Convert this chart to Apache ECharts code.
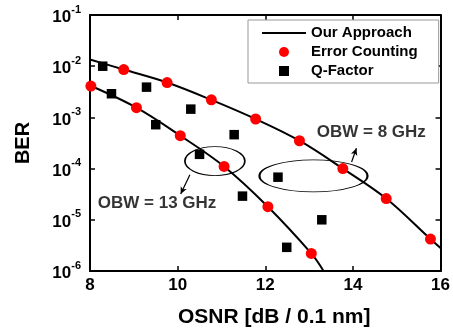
<!DOCTYPE html>
<html><head><meta charset="utf-8">
<script src="https://cdn.jsdelivr.net/npm/echarts@6/dist/echarts.min.js"></script>
<style>html,body{margin:0;padding:0;background:#fff}#c{width:453px;height:333px}</style>
</head><body><div id="c"></div>
<script>
// Error counting, OBW = 13 GHz
const ecX13 = [8.02, 9.06, 10.06, 11.06, 12.06, 13.05];
const ecY13 = [4.1e-3, 1.55e-3, 4.4e-4, 1.1e-4, 1.8e-5, 2.2e-6];
// Error counting, OBW = 8 GHz
const ecX8 = [8.77, 9.76, 10.77, 11.78, 12.78, 13.77, 14.76, 15.77];
const ecY8 = [8.6e-3, 4.8e-3, 2.2e-3, 9.3e-4, 3.5e-4, 1.0e-4, 2.6e-5, 4.2e-6];
// Q-factor
const qX = [8.29, 8.49, 9.29, 9.5, 10.3, 10.5, 11.29, 11.48, 12.29, 12.49, 13.29];
const qY = [1.0e-2, 2.9e-3, 3.9e-3, 7.2e-4, 1.45e-3, 1.9e-4, 4.6e-4, 2.9e-5, 6.8e-5, 2.9e-6, 1.0e-5];
// Our approach curves
const fit8X = [8, 8.77, 9.76, 10.77, 11.78, 12.78, 13.77, 14.76, 15.77, 16];
const fit8Y = [1.35e-2, 8.6e-3, 4.8e-3, 2.2e-3, 9.3e-4, 3.5e-4, 1.0e-4, 2.6e-5, 4.2e-6, 2.8e-6];
const fit13X = [8, 9.06, 10.06, 11.06, 12.06, 13.05, 13.33];
const fit13Y = [4.2e-3, 1.55e-3, 4.4e-4, 1.1e-4, 1.8e-5, 2.2e-6, 1.0e-6];
// Axis ticks
const xTicks = [8, 10, 12, 14, 16];
const yExps = [-6, -5, -4, -3, -2, -1];
// Annotations
const annoText = ['OBW = 13 GHz', 'OBW = 8 GHz'];
const annoX = [9.53, 14.42];
const annoY = [2.1e-5, 5.1e-4];
const ellX = [10.85, 13.1];
const ellY = [1.4e-4, 7.2e-5];
const arrow13 = [[10.28, 7.6e-5], [10.07, 3.2e-5]];
const arrow8 = [[13.97, 1.35e-4], [14.08, 2.5e-4]];

const zip = (a, b) => a.map((v, i) => [v, b[i]]);
const FF = "'Liberation Sans', Arial, sans-serif";
const ELL = 'path://M0,1 C0,0.4477 0.4477,0 1,0 C1.5523,0 2,0.4477 2,1 C2,1.5523 1.5523,2 1,2 C0.4477,2 0,1.5523 0,1 Z';
const LINE_ICON = 'path://M0,0 L44,0 L44,2 L0,2 Z';
const SQ_ICON = 'path://M0,0 L8,0 L8,8 L0,8 Z';

const chart = echarts.init(document.getElementById('c'), null, {renderer: 'canvas'});
const axisLine = {show: true, lineStyle: {color: '#000', width: 2}};
const tick = {show: true, inside: true, length: 5, lineStyle: {color: '#000', width: 1.5}};
chart.setOption({
  animation: false,
  grid: {left: 90, right: 12, top: 15, bottom: 60},
  legend: {
    orient: 'vertical', left: 248, top: 20,
    data: [
      {name: 'Our Approach', icon: LINE_ICON, itemStyle: {color: '#000'}},
      {name: 'Error Counting', icon: 'circle'},
      {name: 'Q-Factor', icon: SQ_ICON}
    ],
    padding: [5, 21, 4, 14], itemGap: 3, itemWidth: 44, itemHeight: 10,
    borderColor: '#999', borderWidth: 1, backgroundColor: '#fff',
    selectedMode: false,
    textStyle: {fontFamily: FF, fontWeight: 'bold', fontSize: 15, color: '#000', lineHeight: 16}
  },
  xAxis: [{
    type: 'value', min: 8, max: 16, interval: 2,
    name: 'OSNR [dB / 0.1 nm]', nameLocation: 'middle', nameGap: 36,
    nameTextStyle: {fontFamily: FF, fontWeight: 'bold', fontSize: 21, color: '#000', padding: [0, 0, 0, 18]},
    axisLine, axisTick: tick, splitLine: {show: false},
    axisLabel: {fontFamily: FF, fontWeight: 'bold', fontSize: 17, color: '#000', margin: 6}
  }, {
    type: 'value', position: 'top', min: 8, max: 16, interval: 2,
    axisLine, axisTick: tick, splitLine: {show: false}, axisLabel: {show: false}
  }],
  yAxis: [{
    type: 'log', logBase: 10, min: 1e-6, max: 1e-1, interval: 1,
    name: 'BER', nameLocation: 'middle', nameGap: 57, nameRotate: 90,
    nameTextStyle: {fontFamily: FF, fontWeight: 'bold', fontSize: 20, color: '#000'},
    axisLine, axisTick: tick, splitLine: {show: false}, minorTick: {show: false},
    axisLabel: {
      margin: 9,
      formatter: v => '{b|10}{s|' + Math.round(Math.log10(v)) + '}',
      rich: {
        b: {fontFamily: FF, fontWeight: 'bold', fontSize: 17, color: '#000', verticalAlign: 'bottom', lineHeight: 22},
        s: {fontFamily: FF, fontWeight: 'bold', fontSize: 11, color: '#000', verticalAlign: 'top', lineHeight: 12}
      }
    }
  }, {
    type: 'log', logBase: 10, min: 1e-6, max: 1e-1, interval: 1, position: 'right',
    axisLine, axisTick: tick, splitLine: {show: false}, axisLabel: {show: false}
  }],
  series: [
    {name: 'Our Approach', type: 'line', data: zip(fit8X, fit8Y), smooth: 0.35, symbol: 'none',
     lineStyle: {color: '#000', width: 2}, itemStyle: {color: '#000'}, z: 2},
    {name: 'Our Approach', type: 'line', data: zip(fit13X, fit13Y), smooth: 0.35, symbol: 'none',
     lineStyle: {color: '#000', width: 2}, itemStyle: {color: '#000'}, z: 2},
    {name: 'Error Counting', type: 'scatter', data: zip(ecX13, ecY13).concat(zip(ecX8, ecY8)),
     symbol: 'circle', symbolSize: 11, itemStyle: {color: '#ff0000', opacity: 1}, z: 3},
    {name: 'Q-Factor', type: 'scatter', data: zip(qX, qY),
     symbol: 'rect', symbolSize: 9.5, itemStyle: {color: '#000', opacity: 1}, z: 3},
    {name: 'ellipses', type: 'scatter', data: zip(ellX, ellY),
     symbol: ELL, symbolKeepAspect: false,
     symbolSize: (val, p) => p.dataIndex === 0 ? [60, 29] : [108, 32],
     itemStyle: {color: 'rgba(0,0,0,0)', borderColor: '#000', borderWidth: 1.2, opacity: 1}, z: 4,
     silent: true,
     markLine: {
       silent: true, symbol: ['none', 'arrow'], symbolSize: [5, 7],
       lineStyle: {color: '#000', width: 1.2, type: 'solid'}, label: {show: false},
       data: [
         [{coord: arrow13[0]}, {coord: arrow13[1]}],
         [{coord: arrow8[0]}, {coord: arrow8[1]}]
       ]
     }},
    {name: 'labels', type: 'scatter', data: zip(annoX, annoY), symbolSize: 0, silent: true,
     label: {show: true, position: 'inside', formatter: p => annoText[p.dataIndex],
       fontFamily: FF, fontWeight: 'bold', fontSize: 17, color: '#000'}, z: 5}
  ]
});
</script></body></html>
